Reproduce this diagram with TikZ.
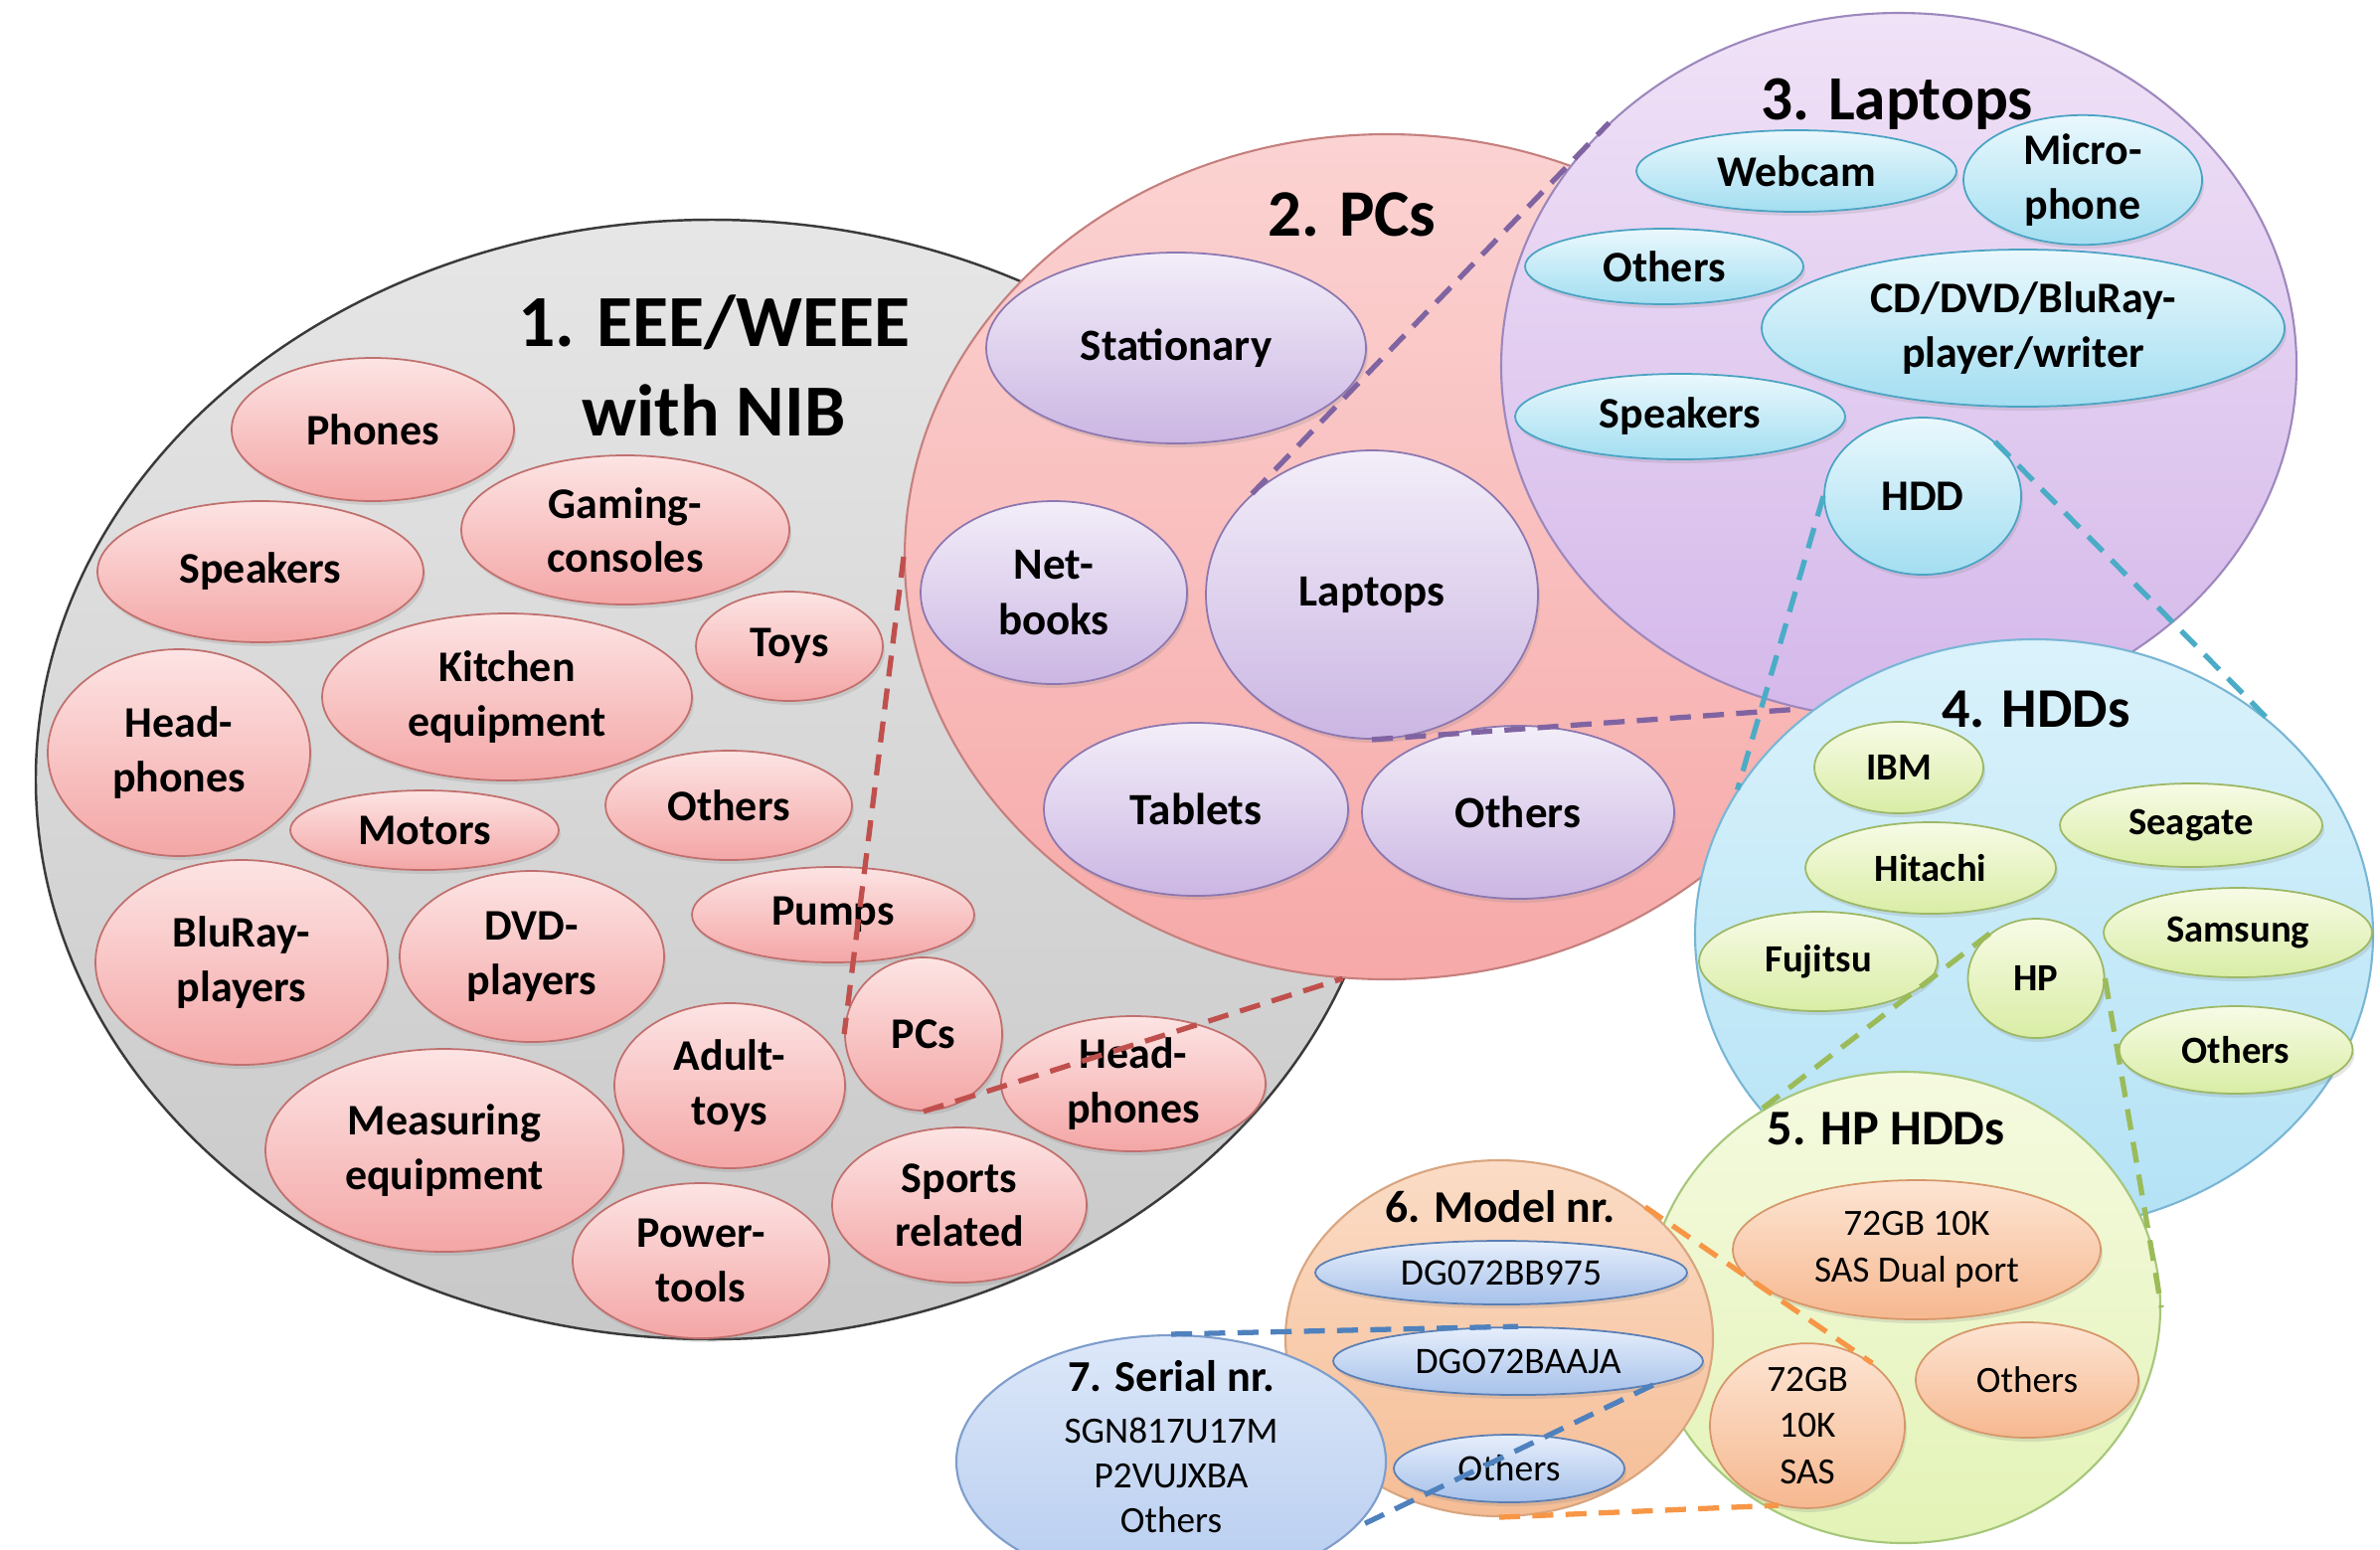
\documentclass[tikz,border=0pt]{standalone}
\usepackage{fontspec}
\setmainfont{Carlito}
\usepackage{tikz}
\usetikzlibrary{shapes.geometric,shadows}

\definecolor{greyline}{HTML}{3A3A3A}
\definecolor{greytop}{HTML}{E6E6E6}
\definecolor{greybot}{HTML}{C8C8C8}
\definecolor{pinkline}{HTML}{C0706E}
\definecolor{pinktop}{HTML}{FDE4E4}
\definecolor{pinkbot}{HTML}{F4A6A6}
\definecolor{roseline}{HTML}{C5807E}
\definecolor{rosetop}{HTML}{FBD3D2}
\definecolor{rosebot}{HTML}{F6A9A8}
\definecolor{lavline}{HTML}{8C77B0}
\definecolor{lavtop}{HTML}{F3EEF9}
\definecolor{lavbot}{HTML}{CBB6E3}
\definecolor{lilacline}{HTML}{9D88BD}
\definecolor{lilactop}{HTML}{F0E2F7}
\definecolor{lilacbot}{HTML}{D4B8EA}
\definecolor{cyanline}{HTML}{4BA3C3}
\definecolor{cyantop}{HTML}{EAF8FD}
\definecolor{cyanbot}{HTML}{A3DEF1}
\definecolor{skyline}{HTML}{79B6D5}
\definecolor{skytop}{HTML}{DAF2FB}
\definecolor{skybot}{HTML}{B3E2F5}
\definecolor{limeline}{HTML}{9CB866}
\definecolor{limetop}{HTML}{F7FBE6}
\definecolor{limebot}{HTML}{D9EDA5}
\definecolor{paleline}{HTML}{A6C77A}
\definecolor{paletop}{HTML}{F5FAE0}
\definecolor{palebot}{HTML}{E3F3B6}
\definecolor{peachline}{HTML}{D6976A}
\definecolor{peachtop}{HTML}{FDE5D3}
\definecolor{peachbot}{HTML}{F6B890}
\definecolor{apricotline}{HTML}{D9A57F}
\definecolor{apricottop}{HTML}{FBDCC6}
\definecolor{apricotbot}{HTML}{F5BD95}
\definecolor{blueline}{HTML}{5A7FB5}
\definecolor{bluetop}{HTML}{E6EEFB}
\definecolor{bluebot}{HTML}{A6C1EA}
\definecolor{iceline}{HTML}{7E9DCB}
\definecolor{icetop}{HTML}{DDE8F9}
\definecolor{icebot}{HTML}{B6CCEF}
\definecolor{zred}{HTML}{C0504D}
\definecolor{zpurple}{HTML}{8064A2}
\definecolor{zteal}{HTML}{4BACC6}
\definecolor{zgreen}{HTML}{9BBB59}
\definecolor{zorange}{HTML}{F79646}
\definecolor{zblue}{HTML}{4F81BD}

\begin{document}
\begin{tikzpicture}
\useasboundingbox (0,0) rectangle (23.94,-15.58);

%Circle 1
\node (C_1) at (7.16,-7.84) [ellipse,draw=greyline,line width=0.7pt,top color=greytop,bottom color=greybot,minimum width=13.6cm,minimum height=11.26cm] {};
\node (t_1) at (7.18,-3.68) [font=\fontsize{21}{25.5}\selectfont\bfseries,align=center] {1. EEE/WEEE\\with NIB};

\begin{scope}[every node/.style={ellipse,draw=pinkline,line width=0.5pt,top color=pinktop,bottom color=pinkbot,drop shadow={opacity=0.2,shadow xshift=0.02cm,shadow yshift=-0.04cm},inner sep=0pt,align=center,font=\fontsize{12.5}{15.5}\selectfont\bfseries}]
	\node (b_1^phones) at (3.75,-4.32) [minimum width=2.84cm,minimum height=1.44cm] {Phones};
	\node (b_1^speakers) at (2.62,-5.75) [minimum width=3.28cm,minimum height=1.42cm] {Speakers};
	\node (b_1^gaming) at (6.29,-5.33) [minimum width=3.30cm,minimum height=1.50cm] {Gaming-\\consoles};
	\node (b_1^toys) at (7.94,-6.50) [minimum width=1.88cm,minimum height=1.10cm] {Toys};
	\node (b_1^kitchen) at (5.10,-7.01) [minimum width=3.72cm,minimum height=1.68cm] {Kitchen\\equipment};
	\node (b_1^headl) at (1.80,-7.57) [minimum width=2.64cm,minimum height=2.08cm] {Head-\\phones};
	\node (b_1^motors) at (4.27,-8.35) [minimum width=2.70cm,minimum height=0.80cm] {Motors};
	\node (b_1^others) at (7.33,-8.10) [minimum width=2.48cm,minimum height=1.10cm] {Others};
	\node (b_1^bluray) at (2.43,-9.68) [minimum width=2.94cm,minimum height=2.06cm] {BluRay-\\players};
	\node (b_1^dvd) at (5.35,-9.62) [minimum width=2.66cm,minimum height=1.72cm] {DVD-\\players};
	\node (b_1^pumps) at (8.38,-9.20) [minimum width=2.84cm,minimum height=0.96cm] {Pumps};
	\node (b_1^pcs) at (9.29,-10.40) [minimum width=1.58cm,minimum height=1.54cm] {PCs};
	\node (b_1^adult) at (7.34,-10.92) [minimum width=2.32cm,minimum height=1.66cm] {Adult-\\toys};
	\node (b_1^headr) at (11.40,-10.90) [minimum width=2.66cm,minimum height=1.36cm] {Head-\\phones};
	\node (b_1^measuring) at (4.47,-11.57) [minimum width=3.60cm,minimum height=2.04cm] {Measuring\\equipment};
	\node (b_1^sports) at (9.65,-12.12) [minimum width=2.56cm,minimum height=1.56cm] {Sports\\related};
	\node (b_1^power) at (7.05,-12.68) [minimum width=2.58cm,minimum height=1.56cm] {Power-\\tools};
\end{scope}

%Circle 2
\node (C_2) at (13.95,-5.60) [ellipse,draw=roseline,line width=0.6pt,top color=rosetop,bottom color=rosebot,minimum width=9.7cm,minimum height=8.5cm] {};
\node (t_2) at (13.60,-2.16) [font=\fontsize{19}{23}\selectfont\bfseries] {2. PCs};

\begin{scope}[every node/.style={ellipse,draw=lavline,line width=0.5pt,top color=lavtop,bottom color=lavbot,drop shadow={opacity=0.2,shadow xshift=0.02cm,shadow yshift=-0.04cm},inner sep=0pt,align=center,font=\fontsize{12.8}{16}\selectfont\bfseries}]
	\node (b_2^stationary) at (11.83,-3.50) [minimum width=3.82cm,minimum height=1.92cm] {Stationary};
	\node (b_2^netbooks) at (10.60,-5.96) [minimum width=2.68cm,minimum height=1.84cm] {Net-\\books};
	\node (b_2^laptops) at (13.80,-5.98) [minimum width=3.34cm,minimum height=2.90cm] {Laptops};
	\node (b_2^tablets) at (12.03,-8.14) [minimum width=3.06cm,minimum height=1.74cm] {Tablets};
	\node (b_2^others) at (15.27,-8.17) [minimum width=3.14cm,minimum height=1.74cm] {Others};
\end{scope}

%Circle 3
\node (C_3) at (19.10,-3.68) [ellipse,draw=lilacline,line width=0.6pt,top color=lilactop,bottom color=lilacbot,minimum width=8.0cm,minimum height=7.1cm] {};
\node (t_3) at (19.08,-1.05) [font=\fontsize{18}{22}\selectfont\bfseries] {3. Laptops};

\begin{scope}[every node/.style={ellipse,draw=cyanline,line width=0.5pt,top color=cyantop,bottom color=cyanbot,drop shadow={opacity=0.2,shadow xshift=0.02cm,shadow yshift=-0.04cm},inner sep=0pt,align=center,font=\fontsize{12.5}{15.5}\selectfont\bfseries}]
	\node (b_3^webcam) at (18.07,-1.72) [minimum width=3.22cm,minimum height=0.82cm] {Webcam};
	\node (b_3^micro) at (20.95,-1.81) [minimum width=2.40cm,minimum height=1.14cm] {Micro-\\phone};
	\node (b_3^others) at (16.74,-2.68) [minimum width=2.80cm,minimum height=0.76cm] {Others};
	\node (b_3^drive) at (20.35,-3.30) [minimum width=5.26cm,minimum height=1.58cm] {CD/DVD/BluRay-\\player/writer};
	\node (b_3^speakers) at (16.90,-4.19) [minimum width=3.32cm,minimum height=0.86cm] {Speakers};
	\node (b_3^hdd) at (19.34,-4.99) [minimum width=1.98cm,minimum height=1.58cm] {HDD};
\end{scope}

%Circle 4
\node (C_4) at (20.46,-9.40) [ellipse,draw=skyline,line width=0.6pt,top color=skytop,bottom color=skybot,minimum width=6.82cm,minimum height=5.94cm] {};
\node (t_4) at (20.48,-7.13) [font=\fontsize{16}{19}\selectfont\bfseries] {4. HDDs};

\begin{scope}[every node/.style={ellipse,draw=limeline,line width=0.5pt,top color=limetop,bottom color=limebot,drop shadow={opacity=0.2,shadow xshift=0.02cm,shadow yshift=-0.04cm},inner sep=0pt,align=center,font=\fontsize{11}{13.5}\selectfont\bfseries}]
	\node (b_4^ibm) at (19.10,-7.72) [minimum width=1.70cm,minimum height=0.92cm] {IBM};
	\node (b_4^seagate) at (22.04,-8.30) [minimum width=2.64cm,minimum height=0.84cm] {Seagate};
	\node (b_4^hitachi) at (19.42,-8.73) [minimum width=2.52cm,minimum height=0.92cm] {Hitachi};
	\node (b_4^fujitsu) at (18.29,-9.67) [minimum width=2.40cm,minimum height=1.00cm] {Fujitsu};
	\node (b_4^hp) at (20.48,-9.84) [minimum width=1.37cm,minimum height=1.20cm] {HP};
	\node (b_4^samsung) at (22.51,-9.38) [minimum width=2.70cm,minimum height=0.90cm] {Samsung};
	\node (b_4^others) at (22.49,-10.56) [minimum width=2.35cm,minimum height=0.88cm] {Others};
\end{scope}

%Circle 5
\node (C_5) at (19.15,-13.15) [ellipse,draw=paleline,line width=0.6pt,top color=paletop,bottom color=palebot,minimum width=5.16cm,minimum height=4.74cm] {};
\node (t_5) at (18.97,-11.35) [font=\fontsize{14.3}{17}\selectfont\bfseries] {5. HP HDDs};

\begin{scope}[every node/.style={ellipse,draw=peachline,line width=0.5pt,top color=peachtop,bottom color=peachbot,drop shadow={opacity=0.2,shadow xshift=0.02cm,shadow yshift=-0.04cm},inner sep=0pt,align=center,font=\fontsize{10.6}{13.2}\selectfont}]
	\node (b_5^dual) at (19.28,-12.57) [minimum width=3.70cm,minimum height=1.40cm] {72GB 10K\\SAS Dual port};
	\node (b_5^sas) at (18.18,-14.34) [minimum width=1.96cm,minimum height=1.64cm] {72GB\\10K\\SAS};
	\node (b_5^others) at (20.39,-13.88) [minimum width=2.24cm,minimum height=1.16cm] {Others};
\end{scope}

%Circle 6
\node (C_6) at (15.08,-13.46) [ellipse,draw=apricotline,line width=0.6pt,top color=apricottop,bottom color=apricotbot,minimum width=4.3cm,minimum height=3.58cm] {};
\node (t_6) at (15.09,-12.14) [font=\fontsize{13}{16}\selectfont\bfseries] {6. Model nr.};

\begin{scope}[every node/.style={ellipse,draw=blueline,line width=0.5pt,top color=bluetop,bottom color=bluebot,drop shadow={opacity=0.2,shadow xshift=0.02cm,shadow yshift=-0.04cm},inner sep=0pt,align=center,font=\fontsize{10.7}{13}\selectfont}]
	\node (b_6^bb975) at (15.10,-12.80) [minimum width=3.74cm,minimum height=0.64cm] {DG072BB975};
	\node (b_6^baaja) at (15.27,-13.69) [minimum width=3.72cm,minimum height=0.68cm] {DGO72BAAJA};
	\node (b_6^others) at (15.18,-14.77) [minimum width=2.32cm,minimum height=0.68cm] {Others};
\end{scope}

%Circle 7
\node (C_7) at (11.78,-14.70) [ellipse,draw=iceline,line width=0.6pt,top color=icetop,bottom color=icebot,minimum width=4.32cm,minimum height=2.54cm] {};
\node (t_7) at (11.78,-13.84) [font=\fontsize{12.6}{15}\selectfont\bfseries] {7. Serial nr.};
\node (n_7) at (11.78,-14.84) [font=\fontsize{10.6}{12.8}\selectfont,align=center] {SGN817U17M\\P2VUJXBA\\Others};

\begin{scope}[line width=1.5pt,dash pattern=on 6pt off 3.5pt]
	%Circle 1 to 2
	\path [color=zred] (C_2.west) edge node {} (b_1^pcs.west);
	\path [color=zred] (b_1^pcs.south) edge node {} (C_2.264);

	%Circle 2 to 3
	\path [color=zpurple] (b_2^laptops.140) edge node {} (C_3.140);
	\path [color=zpurple] (b_2^laptops.south) edge node {} (C_3.254);

	%Circle 3 to 4
	\path [color=zteal] (b_3^hdd.west) edge node {} (C_4.154);
	\path [color=zteal] (b_3^hdd.37) edge node {} (C_4.42);

	%Circle 4 to 5
	\path [color=zgreen] (b_4^hp.136) edge node {} (C_5.128);
	\path [color=zgreen] (b_4^hp.east) edge node {} (C_5.east);

	%Circle 5 to 6
	\path [color=zorange] (C_6.42) edge node {} (b_5^sas.44);
	\path [color=zorange] (C_6.south) edge node {} (b_5^sas.250);

	%Circle 6 to 7
	\path [color=zblue] (C_7.north) edge node {} (b_6^baaja.north);
	\path [color=zblue] (b_6^baaja.350) edge node {} (C_7.340);
\end{scope}
\end{tikzpicture}
\end{document}
